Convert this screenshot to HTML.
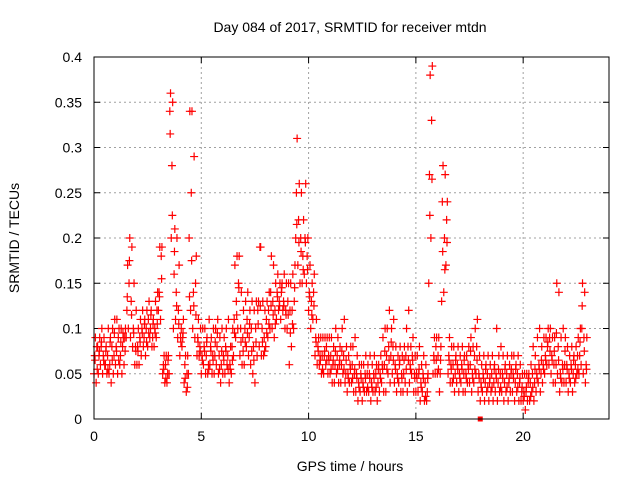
<!DOCTYPE html>
<html><head><meta charset="utf-8"><style>
body{margin:0;background:#fff}
svg{display:block;font-family:"Liberation Sans",sans-serif}
</style></head><body>
<svg id="chart" width="640" height="480" viewBox="0 0 640 480" xmlns="http://www.w3.org/2000/svg">
<rect width="640" height="480" fill="#fff"/>
<text x="350" y="32" font-size="14" text-anchor="middle" fill="#000">Day 084 of 2017, SRMTID for receiver mtdn</text>
<text x="350" y="471" font-size="14" text-anchor="middle" fill="#000">GPS time / hours</text>
<text transform="translate(19,238) rotate(-90)" font-size="14" text-anchor="middle" fill="#000">SRMTID / TECUs</text>
<g id="grid"></g>
<g id="ticks"></g>
<g id="marks"></g>
<rect x="94" y="57" width="515" height="362" fill="none" stroke="#000" stroke-width="1"/>
</svg>
<script>
const xTicks=[0,5,10,15,20];
const yTicks=[0,0.05,0.1,0.15,0.2,0.25,0.3,0.35,0.4];
const yTickLabels=["0","0.05","0.1","0.15","0.2","0.25","0.3","0.35","0.4"];
const times=[0,0.1,0.2,0.3,0.4,0.5,0.6,0.7,0.8,0.9,1,1.1,1.2,1.3,1.4,1.5,1.6,1.7,1.8,1.9,2,2.1,2.2,2.3,2.4,2.5,2.6,2.7,2.8,2.9,3,3.1,3.2,3.3,3.4,3.5,3.6,3.7,3.8,3.9,4,4.1,4.2,4.3,4.4,4.5,4.6,4.7,4.8,4.9,5,5.1,5.2,5.3,5.4,5.5,5.6,5.7,5.8,5.9,6,6.1,6.2,6.3,6.4,6.5,6.6,6.7,6.8,6.9,7,7.1,7.2,7.3,7.4,7.5,7.6,7.7,7.8,7.9,8,8.1,8.2,8.3,8.4,8.5,8.6,8.7,8.8,8.9,9,9.1,9.2,9.3,9.4,9.5,9.6,9.7,9.8,9.9,10,10.1,10.2,10.3,10.4,10.5,10.6,10.7,10.8,10.9,11,11.1,11.2,11.3,11.4,11.5,11.6,11.7,11.8,11.9,12,12.1,12.2,12.3,12.4,12.5,12.6,12.7,12.8,12.9,13,13.1,13.2,13.3,13.4,13.5,13.6,13.7,13.8,13.9,14,14.1,14.2,14.3,14.4,14.5,14.6,14.7,14.8,14.9,15,15.1,15.2,15.3,15.4,15.5,15.6,15.7,15.8,15.9,16,16.1,16.2,16.3,16.4,16.5,16.6,16.7,16.8,16.9,17,17.1,17.2,17.3,17.4,17.5,17.6,17.7,17.8,17.9,18,18.1,18.2,18.3,18.4,18.5,18.6,18.7,18.8,18.9,19,19.1,19.2,19.3,19.4,19.5,19.6,19.7,19.8,19.9,20,20.1,20.2,20.3,20.4,20.5,20.6,20.7,20.8,20.9,21,21.1,21.2,21.3,21.4,21.5,21.6,21.7,21.8,21.9,22,22.1,22.2,22.3,22.4,22.5,22.6,22.7,22.8,22.9];
const lowVals=[.05,.04,.05,.06,.05,.06,.05,.05,.04,.05,
.06,.05,.06,.05,.06,.09,.1,.09,.08,.06,
.06,.06,.07,.08,.07,.08,.09,.08,.08,.09,
.12,.11,.05,.04,.04,.05,.2,.1,.11,.09,
.07,.08,.04,.03,.05,.12,.1,.09,.07,.07,
.05,.06,.05,.05,.06,.05,.05,.06,.05,.04,
.05,.05,.06,.04,.05,.07,.09,.1,.07,.06,
.06,.08,.07,.06,.05,.04,.07,.08,.07,.07,
.08,.09,.1,.1,.09,.11,.12,.11,.12,.1,
.1,.06,.08,.1,.2,.17,.15,.15,.16,.15,
.12,.1,.11,.07,.06,.06,.05,.05,.06,.05,
.05,.04,.04,.05,.04,.04,.05,.04,.03,.04,
.04,.03,.03,.02,.03,.02,.03,.03,.03,.02,
.03,.03,.02,.03,.04,.03,.03,.05,.04,.05,
.04,.03,.04,.03,.03,.04,.03,.04,.05,.03,
.03,.03,.02,.03,.02,.02,.15,.2,.05,.05,
.05,.03,.13,.14,.17,.05,.04,.04,.03,.04,
.03,.04,.03,.03,.04,.04,.03,.04,.05,.03,
.02,.03,.02,.03,.02,.03,.02,.03,.02,.03,
.03,.02,.03,.02,.03,.03,.02,.03,.02,.02,
.02,.01,.02,.02,.03,.02,.03,.04,.03,.04,
.05,.06,.06,.05,.04,.04,.05,.03,.04,.04,
.04,.03,.04,.03,.04,.05,.05,.06,.05,.04];
const midVals=[.07,.08,.07,.08,.07,.06,.07,.06,.08,.07,
.08,.09,.07,.08,.09,.12,.15,.13,.1,.08,
.08,.09,.1,.09,.1,.11,.1,.09,.1,.12,
.14,.18,.06,.06,.05,.34,.28,.16,.14,.12,
.09,.09,.06,.05,.2,.25,.14,.15,.09,.08,
.07,.08,.07,.06,.08,.07,.07,.08,.07,.06,
.07,.08,.07,.06,.08,.11,.13,.15,.1,.09,
.1,.11,.09,.1,.08,.1,.12,.19,.1,.09,
.11,.12,.14,.13,.12,.14,.13,.14,.13,.12,
.13,.12,.12,.13,.25,.22,.2,.18,.2,.18,
.14,.13,.14,.09,.08,.07,.07,.07,.08,.07,
.07,.06,.06,.07,.06,.06,.07,.05,.05,.06,
.06,.05,.05,.04,.05,.04,.05,.05,.05,.04,
.05,.05,.04,.05,.06,.06,.07,.08,.07,.08,
.06,.05,.06,.05,.05,.07,.08,.06,.07,.05,
.05,.05,.04,.05,.04,.03,.27,.33,.07,.08,
.07,.05,.24,.2,.22,.07,.06,.06,.05,.06,
.05,.06,.05,.05,.06,.06,.05,.07,.08,.05,
.04,.05,.04,.05,.04,.05,.04,.05,.04,.05,
.05,.04,.05,.04,.05,.05,.04,.05,.04,.03,
.03,.03,.04,.04,.05,.04,.05,.06,.05,.06,
.07,.08,.09,.07,.06,.06,.08,.05,.06,.06,
.06,.05,.06,.05,.06,.07,.07,.1,.09,.06];
const highVals=[.09,.08,.09,.1,.09,.08,.1,.09,.1,.11,
.11,.1,.1,.09,.1,.17,.2,.19,.15,.12,
.1,.11,.12,.11,.12,.13,.12,.11,.13,.14,
.19,.19,.07,.07,.07,.36,.35,.21,.2,.17,
.1,.11,.07,.07,.34,.34,.29,.18,.11,.1,
.1,.1,.09,.11,.09,.1,.1,.11,.09,.1,
.09,.1,.11,.08,.1,.17,.18,.18,.14,.12,
.13,.14,.12,.13,.12,.13,.13,.19,.13,.12,
.13,.14,.18,.17,.15,.16,.15,.15,.16,.15,
.15,.15,.16,.17,.31,.26,.25,.22,.26,.2,
.17,.15,.16,.11,.09,.09,.09,.09,.09,.09,
.09,.08,.1,.09,.08,.1,.11,.08,.07,.08,
.08,.09,.07,.06,.06,.06,.07,.06,.07,.06,
.07,.06,.06,.07,.09,.1,.1,.12,.1,.11,
.08,.07,.08,.07,.08,.1,.12,.08,.09,.07,
.07,.08,.06,.07,.06,.05,.38,.39,.09,.09,
.09,.08,.28,.27,.24,.09,.08,.08,.07,.08,
.07,.08,.07,.07,.08,.09,.08,.1,.11,.07,
.06,.07,.06,.07,.06,.07,.06,.1,.07,.08,
.07,.06,.07,.06,.07,.07,.06,.07,.06,.05,
.05,.05,.05,.06,.08,.07,.09,.1,.08,.09,
.09,.1,.1,.09,.09,.15,.14,.09,.1,.09,
.08,.07,.08,.07,.08,.09,.1,.15,.14,.09];
const extraVals=[.065,.055,.075,.085,.065,.075,.055,.085,.065,.095,
.075,.065,.085,.095,.075,.135,.175,.115,.095,.075,
.075,.085,.095,.105,.085,.095,.115,.105,.095,.105,
.135,.155,.055,.045,.065,.315,.225,.185,.125,.105,
.085,.095,.045,.035,.135,.175,.125,.115,.085,.075,
.065,.075,.085,.055,.075,.065,.085,.095,.055,.075,
.065,.075,.055,.055,.065,.095,.115,.145,.085,.075,
.085,.095,.105,.075,.065,.085,.105,.125,.085,.075,
.095,.105,.125,.115,.105,.135,.125,.145,.125,.115,
.115,.095,.105,.145,.215,.195,.185,.165,.195,.165,
.135,.115,.125,.085,.075,.065,.055,.075,.065,.065,
.055,.065,.075,.055,.065,.075,.055,.065,.045,.055,
.045,.055,.045,.035,.045,.035,.045,.035,.045,.035,
.045,.035,.055,.045,.055,.075,.055,.065,.085,.065,
.055,.045,.065,.045,.065,.055,.065,.055,.065,.045,
.045,.055,.035,.045,.025,.045,.225,.265,.065,.065,
.055,.065,.185,.165,.195,.065,.055,.045,.065,.055,
.045,.055,.065,.045,.055,.075,.045,.055,.065,.045,
.035,.045,.055,.035,.045,.035,.055,.045,.055,.035,
.045,.055,.035,.045,.055,.045,.055,.035,.045,.035,
.025,.035,.045,.025,.035,.055,.045,.055,.065,.055,
.065,.085,.075,.065,.075,.095,.065,.045,.055,.075,
.055,.045,.055,.065,.045,.055,.085,.125,.075,.055];
const markerTime=[18];
const markerVal=[0];

const X0=94,X1=609,Y0=419,Y1=57;
const xs=t=>X0+(t/24)*(X1-X0);
const ys=v=>Y0-(v/0.4)*(Y0-Y1);
const NS="http://www.w3.org/2000/svg";
function mk(tag,attrs,parent){const e=document.createElementNS(NS,tag);for(const k in attrs)e.setAttribute(k,attrs[k]);parent.appendChild(e);return e;}
const grid=document.getElementById('grid'),ticks=document.getElementById('ticks'),marks=document.getElementById('marks');
xTicks.forEach(t=>{
  const x=xs(t);
  if(t>0){const g=mk('line',{x1:x,x2:x,y1:Y1,y2:Y0,stroke:'#a0a0a0','stroke-dasharray':'2,3'},grid);
  
  }
  const tk=mk('path',{d:`M${x},${Y0}v-6M${x},${Y1}v6`,stroke:'#000'},ticks);
  
  
  const l=mk('text',{x:x,y:Y0+22,'font-size':14,'text-anchor':'middle',fill:'#000'},ticks);
  l.textContent=t;
  
  
});
yTicks.forEach((v,i)=>{
  const y=ys(v);
  if(v>0&&v<0.4){const g=mk('line',{x1:X0,x2:X1,y1:y,y2:y,stroke:'#a0a0a0','stroke-dasharray':'2,3'},grid);
  
  }
  const tk=mk('path',{d:`M${X0},${y}h6M${X1},${y}h-6`,stroke:'#000'},ticks);
  
  
  const l=mk('text',{x:X0-12,y:y+5,'font-size':14,'text-anchor':'end',fill:'#000'},ticks);
  l.textContent=yTickLabels[i];
  
  
});
function plus(t,v,name){
  const x=xs(t),y=ys(v);
  const p=mk('path',{d:`M${x-4},${y}h8M${x},${y-4}v8`,stroke:'#ff0000','stroke-width':1.2},marks);
  
  
}
times.forEach((t,i)=>{
  plus(t,lowVals[i],'point-low');
  plus(t+0.033,midVals[i],'point-mid');
  plus(t+0.05,extraVals[i],'point-extra');
  plus(t+0.066,highVals[i],'point-high');
});
markerTime.forEach((t,i)=>{
  const r=mk('rect',{x:xs(t)-2.5,y:ys(markerVal[i])-2.5,width:5,height:5,fill:'#ff0000'},marks);
  
  
});
</script>
</body></html>
